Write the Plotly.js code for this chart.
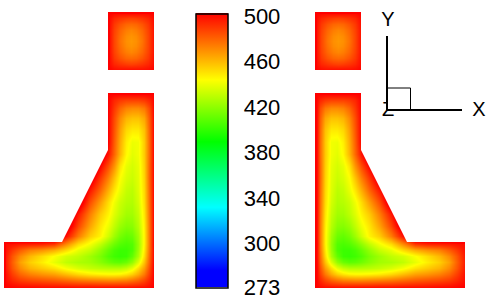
<!DOCTYPE html>
<html>
<head>
<meta charset="utf-8">
<script src="https://cdn.plot.ly/plotly-3.0.1.min.js"></script>
<style>html,body{margin:0;padding:0;background:#fff}#chart{width:488px;height:302px}</style>
</head>
<body>
<div id="chart"></div>
<script>
const lowerX = [4.5,5.5,12,20,30,42,54,66,78,90,100,108,114,120,126,132,138,144,149,152.5,153.5];
const lowerY = [93.5,94.5,100,108,118,130,142,154,166,178,190,202,214,226,236,244,250,256,262,268,274,280,285,286.5,287.5];
const lowerZ = [
[500,500,500,500,500,500,500,500,500,500,500,500,500,500,500,500,500,500,500,500,500],
[500,500,500,500,500,500,500,500,500,500,500,500,498,497,497,497,497,497,498,499,500],
[500,500,500,500,500,500,500,500,500,500,500,500,492,488,486,486,486,488,492,498,500],
[500,500,500,500,500,500,500,500,500,500,500,500,488,478,472,470,470,474,484,497,500],
[500,500,500,500,500,500,500,500,500,500,500,500,484,470,461,458,458,464,480,496,500],
[500,500,500,500,500,500,500,500,500,500,500,500,482,465,453,449,449,458,478,496,500],
[500,500,500,500,500,500,500,500,500,500,500,500,480,462,448,441,442,456,477,496,500],
[500,500,500,500,500,500,500,500,500,500,512,496,478,460,446,439,442,456,477,496,500],
[500,500,500,500,500,500,500,500,500,520,500,483,468,450,440,436,440,455,478,496,500],
[500,500,500,500,500,500,500,500,500,508,488,472,458,444,437,434,439,454,478,496,500],
[500,500,500,500,500,500,500,500,520,495,478,462,450,440,433,431,438,453,477,496,500],
[500,500,500,500,500,500,500,520,512,483,466,452,442,434,430,429,436,452,476,496,500],
[500,500,500,500,500,500,500,520,495,472,456,447,438,431,426,426,433,450,475,496,500],
[500,500,500,500,500,500,520,512,485,464,450,441,432,424,420,421,430,448,474,496,500],
[520,520,520,520,520,520,520,497,473,455,447,435,425,417,413,415,426,447,474,496,500],
[500,497,496,494,493,492,488,470,452,442,432,422,415,410,408,410,424,447,474,497,500],
[500,496,488,480,472,468,462,452,440,433,423,414,408,405,405,409,425,449,475,496,500],
[500,494,482,470,460,452,444,436,432,425,418,410,406,404,405,413,428,452,477,496,500],
[500,493,480,465,455,448,440,432,428,426,421,416,413,412,415,423,438,458,479,497,500],
[500,494,482,470,461,456,451,443,437,433,431,430,430,430,433,440,452,466,483,498,500],
[500,496,487,478,472,468,465,459,453,449,447,446,446,447,450,455,463,474,487,498,500],
[500,497,492,487,484,482,480,477,474,472,471,470,470,471,472,475,479,485,492,499,500],
[500,499,497,495,494,493,492,491,490,490,489,489,489,489,489,490,491,493,496,499,500],
[500,500,499,498,498,497,497,497,496,496,496,496,496,496,496,496,497,497,498,500,500],
[500,500,500,500,500,500,500,500,500,500,500,500,500,500,500,500,500,500,500,500,500]
];
const upperX = [108.5,109.5,114,120,126,131,136,142,148,152.5,153.5];
const upperY = [12.5,13.5,18,24,30,36,41,46,52,58,64,68.5,69.5];
const upperZ = [
[500,500,500,500,500,500,500,500,500,500,500],
[500,499,497,496,496,496,496,496,497,499,500],
[500,497,492,489,487,486,487,489,492,497,500],
[500,496,488,482,478,477,478,482,488,496,500],
[500,495,486,478,473,471,473,478,486,495,500],
[500,495,485,476,470,468,470,476,485,495,500],
[500,495,485,475,469,467,469,475,485,495,500],
[500,495,485,476,470,468,470,476,485,495,500],
[500,495,486,478,473,471,473,478,486,495,500],
[500,496,488,482,478,477,478,482,488,496,500],
[500,497,492,489,487,486,487,489,492,497,500],
[500,499,497,496,496,496,496,496,497,499,500],
[500,500,500,500,500,500,500,500,500,500,500]
];
const barTickVals = [497.5,460.4,422.4,385.3,347.3,310,273.5];
const barTickText = ['500','460','420','380','340','300','273'];
const zMin = 273, zMax = 500;
const rainbow = [[0,'#0000ff'],[0.06,'#0000ff'],[0.291,'#00ffff'],[0.53,'#00ff00'],[0.756,'#ffff00'],[1,'#ff0000']];
const mirrorAt = 469;
const mirrorX = xs => xs.map(v => mirrorAt - v).reverse();
const mirrorZ = zs => zs.map(r => r.slice().reverse());

const field = (x, y, z) => ({type:'heatmap', x, y, z, zsmooth:'best', coloraxis:'coloraxis', hoverinfo:'skip'});
const line = (x, y, w) => ({type:'scatter', mode:'lines', x, y, line:{color:'#000', width:w}, hoverinfo:'skip', showlegend:false});
const cutout = (x, y) => ({type:'scatter', mode:'lines', x, y, fill:'toself', fillcolor:'#fff', line:{width:0}, hoverinfo:'skip', showlegend:false});

const traces = [
  field(lowerX, lowerY, lowerZ),
  field(upperX, upperY, upperZ),
  field(mirrorX(lowerX), lowerY, mirrorZ(lowerZ)),
  field(mirrorX(upperX), upperY, mirrorZ(upperZ)),
  cutout([3,108,108,62,3,3],[92,92,150,242,242,92]),
  cutout([466,361,361,407,466,466],[92,92,150,242,242,92]),
  {type:'scatter', mode:'text', x:[388,479,388], y:[110.5,110.5,20.5], text:['Z','X','Y'], textposition:'middle center',
   textfont:{family:'Liberation Sans, Arial, sans-serif', size:20, color:'#000'}, cliponaxis:false, hoverinfo:'skip', showlegend:false},
  {type:'scatter', mode:'lines', x:[387,410.5,410.5,387,387], y:[88,88,110,110,88], fill:'toself', fillcolor:'#fff', line:{color:'#000', width:1}, hoverinfo:'skip', showlegend:false},
  line([387,387],[36,110],2),
  line([387,462],[110,110],2)
];

const layout = {
  width:488, height:302,
  margin:{l:0,r:0,t:0,b:0,pad:0,autoexpand:false},
  paper_bgcolor:'#fff', plot_bgcolor:'#fff', showlegend:false,
  xaxis:{range:[0,488], visible:false, fixedrange:true},
  yaxis:{range:[302,0], visible:false, fixedrange:true},
  coloraxis:{cmin:zMin, cmax:zMax, colorscale:rainbow, colorbar:{
    x:195.5/488, xanchor:'left', xpad:0,
    y:1-13.5/302, yanchor:'top', ypad:0,
    lenmode:'pixels', len:274, thicknessmode:'pixels', thickness:32,
    outlinecolor:'#000', outlinewidth:1.5, borderwidth:0,
    tickmode:'array', tickvals:barTickVals, ticktext:barTickText,
    ticks:'outside', ticklen:11, tickcolor:'rgba(0,0,0,0)', tickwidth:1,
    tickfont:{family:'Liberation Sans, Arial, sans-serif', size:22, color:'#000'}
  }}
};
Plotly.newPlot('chart', traces, layout, {displayModeBar:false, staticPlot:true});
</script>
</body>
</html>
